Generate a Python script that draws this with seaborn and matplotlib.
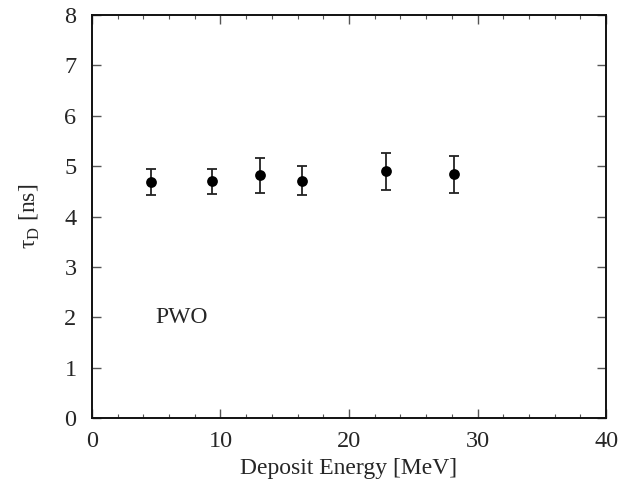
import matplotlib
matplotlib.use("Agg")
import matplotlib.pyplot as plt
import seaborn as sns
import pandas as pd
from matplotlib.ticker import MultipleLocator

energy = [4.6, 9.35, 13.1, 16.35, 22.9, 28.2]
tau = [4.68, 4.70, 4.82, 4.71, 4.90, 4.84]
tau_err = [0.26, 0.25, 0.35, 0.29, 0.37, 0.37]
x_ticks = [0, 10, 20, 30, 40]
y_ticks = [0, 1, 2, 3, 4, 5, 6, 7, 8]

df = pd.DataFrame({"energy": energy, "tau": tau, "err": tau_err})

sns.set_style("ticks")
plt.rcParams["font.family"] = ["Liberation Serif", "DejaVu Serif"]
plt.rcParams["mathtext.fontset"] = "custom"
plt.rcParams["mathtext.rm"] = "Liberation Serif"

fig = plt.figure(figsize=(6.38, 4.92), dpi=100)
ax = fig.add_axes([0.144, 0.1504, 0.806, 0.8191])

ax.errorbar(df["energy"], df["tau"], yerr=df["err"], fmt="none",
            ecolor="#222222", elinewidth=1.3, capsize=3.4, capthick=1.3, zorder=2)
sns.scatterplot(data=df, x="energy", y="tau", ax=ax, color="black", s=60,
                edgecolor="black", linewidth=0, zorder=3, legend=False)

ax.set_xlim(0, 40)
ax.set_ylim(0, 8)
ax.set_xticks(x_ticks)
ax.set_yticks(y_ticks)
ax.xaxis.set_minor_locator(MultipleLocator(2))
ax.tick_params(which="both", direction="in", top=True, right=True,
               color="#555555", labelsize=17.5)
ax.tick_params(axis="x", which="both", pad=9)
ax.tick_params(axis="y", which="both", pad=11)
ax.tick_params(which="major", length=6.5, width=1.0)
ax.tick_params(which="minor", length=3, width=0.8)
for s in ax.spines.values():
    s.set_linewidth(1.4)
    s.set_color("#111111")

ax.set_xlabel("Deposit Energy [MeV]", fontsize=17, labelpad=5)
ax.set_ylabel(r"τ$_{\mathrm{D}}$ [ns]", fontsize=17, labelpad=16)
ax.text(4.9, 2.0, "PWO", fontsize=17, va="center", ha="left")

fig.savefig("out.png", dpi=100)
